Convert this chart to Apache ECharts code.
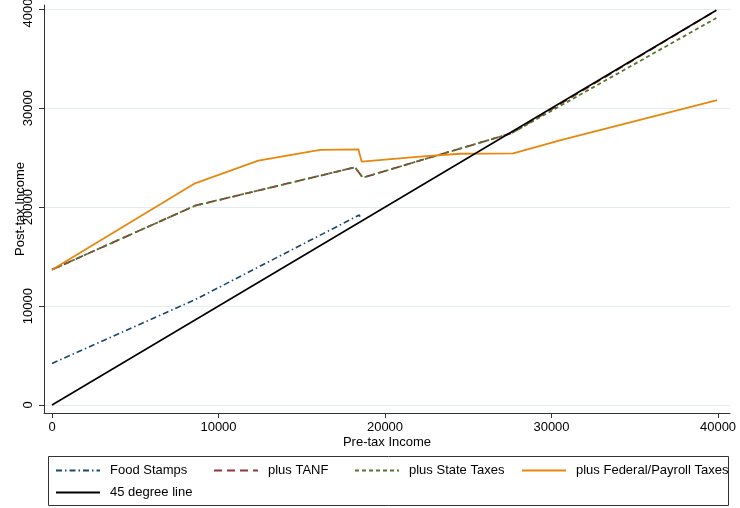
<!DOCTYPE html>
<html>
<head>
<meta charset="utf-8">
<script src="https://cdn.jsdelivr.net/npm/echarts@6/dist/echarts.min.js"></script>
<style>
html,body{margin:0;padding:0;background:#fff;}
#chart{width:740px;height:508px;}
</style>
</head>
<body>
<div id="chart"></div>
<script>
// ---- data ----
var xTicks = [0, 10000, 20000, 30000, 40000];
var yTicks = [0, 10000, 20000, 30000, 40000];

var foodX = [0, 8600, 18460, 18500];
var foodY = [4200, 10650, 19210, 18900];

var tanfX = [0, 8600, 18200, 18660, 27600, 39900];
var tanfY = [13680, 20150, 24030, 22980, 27470, 39900];

var stateX = [0, 8600, 18200, 18660, 27600, 39900];
var stateY = [13680, 20150, 24030, 22980, 27470, 39120];

var fedX = [0, 8590, 12390, 16100, 18400, 18600, 22100, 24500, 27700, 30500, 39950];
var fedY = [13680, 22410, 24700, 25780, 25850, 24600, 25100, 25400, 25430, 26760, 30830];

var lineX = [0, 39900];
var lineY = [0, 39900];

var names = ['Food Stamps', 'plus TANF', 'plus State Taxes', 'plus Federal/Payroll Taxes', '45 degree line'];

function zip(xs, ys) { return xs.map(function (x, i) { return [x, ys[i]]; }); }
function plain(v) { return String(v); }

var FONT = "'Liberation Sans', Arial, sans-serif";
var TXT = '#000';

function legendAt(name, left, top) {
  return {
    data: [name], left: left, top: top, orient: 'horizontal',
    itemWidth: 44, itemHeight: 12, padding: 0,
    itemStyle: { opacity: 0 },
    textStyle: { fontFamily: FONT, fontSize: 13, color: TXT, padding: [0, 0, 0, 5] },
    selectedMode: false
  };
}

var chart = echarts.init(document.getElementById('chart'), null, { renderer: 'canvas' });
var option = {
  animation: false,
  backgroundColor: '#fff',
  grid: { left: 44, right: 10, top: 5, bottom: 95, containLabel: false, outerBoundsMode: 'none' },
  xAxis: {
    type: 'value', min: -480, max: 40720,
    name: 'Pre-tax Income', nameLocation: 'middle', nameGap: 23, nameMoveOverlap: false,
    nameTextStyle: { fontFamily: FONT, fontSize: 13, color: TXT },
    axisLine: { show: true, onZero: false, lineStyle: { color: '#333', width: 1 } },
    axisTick: { show: true, length: 5, customValues: xTicks, lineStyle: { color: '#333' } },
    axisLabel: { customValues: xTicks, formatter: plain, fontFamily: FONT, fontSize: 13, color: TXT, margin: 8 },
    splitLine: { show: false }
  },
  yAxis: {
    type: 'value', min: -809, max: 40435,
    name: 'Post-tax Income', nameLocation: 'middle', nameGap: 17, nameMoveOverlap: false,
    nameTextStyle: { fontFamily: FONT, fontSize: 13, color: TXT },
    axisLine: { show: true, onZero: false, lineStyle: { color: '#333', width: 1 } },
    axisTick: { show: true, length: 5, customValues: yTicks, lineStyle: { color: '#333' } },
    axisLabel: { customValues: yTicks, formatter: plain, rotate: 90, fontFamily: FONT, fontSize: 13, color: TXT, margin: 9 },
    splitLine: { show: false }
  },
  legend: [
    legendAt(names[0], 55, 464),
    legendAt(names[1], 213, 464),
    legendAt(names[2], 354, 464),
    legendAt(names[3], 521, 464),
    legendAt(names[4], 55, 486)
  ],
  graphic: [{
    type: 'rect', shape: { x: 48.5, y: 456.5, width: 680, height: 49 },
    style: { fill: 'none', stroke: '#333', lineWidth: 1 }, silent: true
  }],
  series: [
    {
      name: 'grid', type: 'line', data: [], z: 0, silent: true,
      markLine: {
        z: 0, silent: true, symbol: ['none', 'none'], label: { show: false },
        lineStyle: { color: '#e3ecef', width: 1, type: 'solid' },
        data: yTicks.map(function (v) { return { yAxis: v }; })
      }
    },
    {
      name: names[0], type: 'line', data: zip(foodX, foodY), symbol: 'none',
      lineStyle: { color: '#1a476f', width: 1.6, type: [6, 3, 1.5, 3] }, itemStyle: { color: '#1a476f' }
    },
    {
      name: names[1], type: 'line', data: zip(tanfX, tanfY), symbol: 'none',
      lineStyle: { color: '#90353b', width: 1.8, type: [8, 5] }, itemStyle: { color: '#90353b' }
    },
    {
      name: names[2], type: 'line', data: zip(stateX, stateY), symbol: 'none',
      lineStyle: { color: '#55752f', width: 1.8, type: [4, 3] }, itemStyle: { color: '#55752f' }
    },
    {
      name: names[3], type: 'line', data: zip(fedX, fedY), symbol: 'none',
      lineStyle: { color: '#e8870e', width: 1.8, type: 'solid' }, itemStyle: { color: '#e8870e' }
    },
    {
      name: names[4], type: 'line', data: zip(lineX, lineY), symbol: 'none',
      lineStyle: { color: '#000', width: 1.6, type: 'solid' }, itemStyle: { color: '#000' }
    }
  ]
};
chart.setOption(option);
</script>
</body>
</html>
